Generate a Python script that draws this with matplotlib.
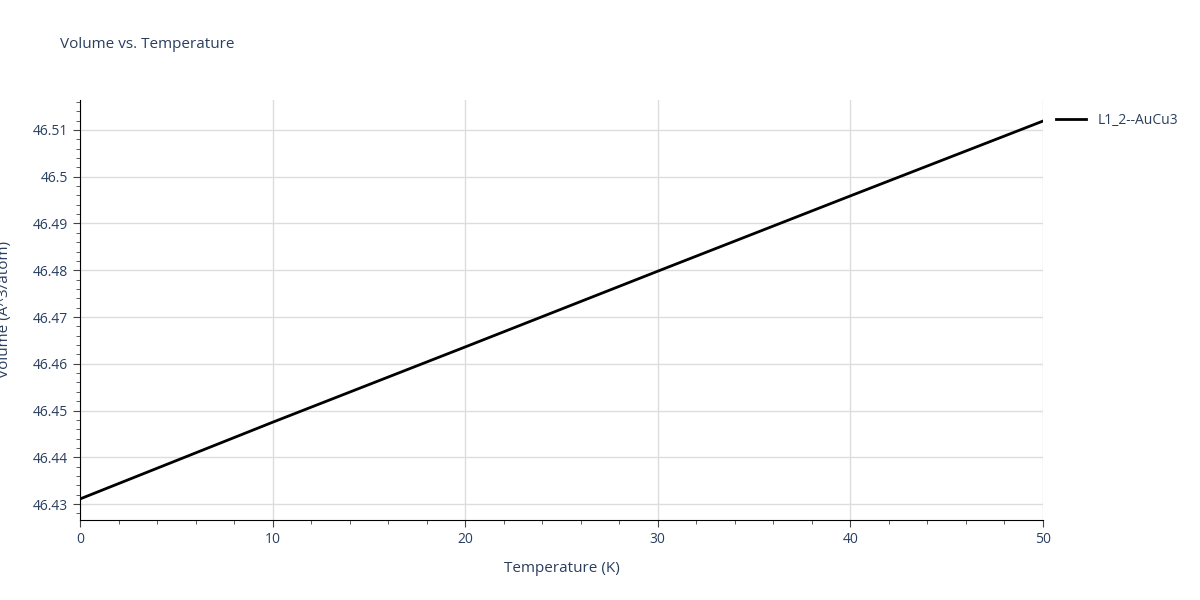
import matplotlib
matplotlib.use("Agg")
import matplotlib.pyplot as plt
from matplotlib.ticker import MultipleLocator

# values
temperature = [0, 10, 20, 30, 40, 50]
volume = [46.4311, 46.4475, 46.4636, 46.4798, 46.4959, 46.5119]
series_name = "L1_2--AuCu3"

plt.rcParams['font.family'] = ['Open Sans', 'DejaVu Sans']
txt = '#2a3f5f'

fig = plt.figure(figsize=(12, 6), dpi=100)
ax = fig.add_axes([80/1200, 80/600, 963/1200, 420/600])
ax.plot(temperature, volume, color='black', lw=2, label=series_name)

ax.set_xlim(0, 50)
ax.set_ylim(46.4266, 46.5164)
ax.xaxis.set_major_locator(MultipleLocator(10))
ax.xaxis.set_minor_locator(MultipleLocator(2))
ax.yaxis.set_major_locator(MultipleLocator(0.01))
ax.yaxis.set_minor_locator(MultipleLocator(0.002))
ax.yaxis.set_major_formatter(plt.FuncFormatter(lambda v, p: ('%.3f' % v).rstrip('0').rstrip('.')))
ax.grid(True, which='major', color='#dddddd', lw=1)
for s in ['top', 'right']:
    ax.spines[s].set_visible(False)
ax.spines['left'].set_color('black')
ax.spines['bottom'].set_color('black')
ax.tick_params(which='both', direction='out', colors='#444444', labelcolor=txt, labelsize=10)
ax.tick_params(which='major', length=5)
ax.tick_params(which='minor', length=3)

ax.set_xlabel('Temperature (K)', color=txt, fontsize=11, labelpad=10)
ax.set_ylabel('Volume (Å^3/atom)', color=txt, fontsize=11)
ax.yaxis.set_label_coords(-68/963, 0.5)
fig.text(60/1200, 1 - 45/600, 'Volume vs. Temperature', color=txt, fontsize=11, va='center')
ax.legend(loc='upper left', bbox_to_anchor=(1.0, 1.0), frameon=False, fontsize=10, labelcolor=txt,
          handlelength=2.2)

fig.savefig('out.png', dpi=100)
